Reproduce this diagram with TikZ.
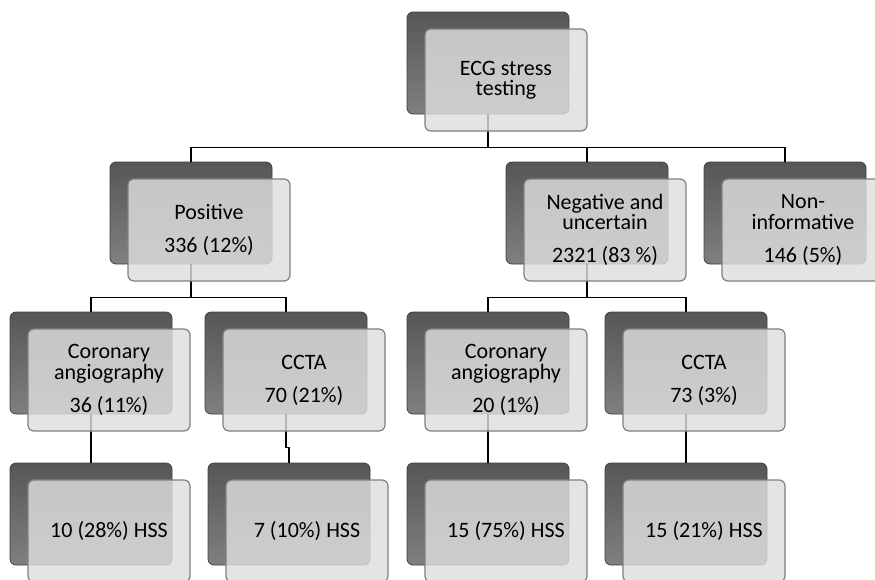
\documentclass[tikz,border=0pt]{standalone}
\usepackage{fontspec}
\setmainfont{Carlito}
\usetikzlibrary{calc}

\begin{document}
\begin{tikzpicture}[x=1pt, y=-1pt,
  backbox/.style={draw=black!75, line width=0.8pt, rounded corners=6pt,
    top color=black!66, bottom color=black!50,
    minimum width=162pt, minimum height=102pt, inner sep=0pt},
  frontbox/.style={draw=black!50, line width=1.2pt, rounded corners=6pt,
    fill=black!13, fill opacity=0.82, text opacity=1,
    minimum width=162pt, minimum height=102pt, inner sep=0pt,
    align=center, font=\fontsize{22}{20.5}\selectfont},
  link/.style={line width=1.6pt, black}]
  \clip (0,0) rectangle (875,579);
  \def\dx{18}
  \def\dy{17}
  \def\gap{12.5pt}

  % Back boxes
  \node[backbox] (ecgB) at (488,63) {};
  \node[backbox] (posB) at (191,213) {};
  \node[backbox] (negB) at (587,213) {};
  \node[backbox] (nonB) at (785,213) {};
  \node[backbox] (caPB) at (91,363) {};
  \node[backbox] (ctPB) at (286,363) {};
  \node[backbox] (caNB) at (488,363) {};
  \node[backbox] (ctNB) at (686,363) {};
  \node[backbox] (hss1B) at (91,514) {};
  \node[backbox] (hss2B) at (289,514) {};
  \node[backbox] (hss3B) at (488,514) {};
  \node[backbox] (hss4B) at (686,514) {};

  % Connections
  \draw[link] (ecgB.south) -- ++(0,33) -| (posB.north);
  \draw[link] (ecgB.south) -- ++(0,33) -| (negB.north);
  \draw[link] (ecgB.south) -- ++(0,33) -| (nonB.north);
  \draw[link] (posB.south) -- ++(0,33) -| (caPB.north);
  \draw[link] (posB.south) -- ++(0,33) -| (ctPB.north);
  \draw[link] (negB.south) -- ++(0,33) -| (caNB.north);
  \draw[link] (negB.south) -- ++(0,33) -| (ctNB.north);
  \draw[link] (caPB.south) -- ++(0,33) -| (hss1B.north);
  \draw[link] (ctPB.south) -- ++(0,33) -| (hss2B.north);
  \draw[link] (caNB.south) -- ++(0,33) -| (hss3B.north);
  \draw[link] (ctNB.south) -- ++(0,33) -| (hss4B.north);

  % Front boxes with text
  \node[frontbox] (ecg) at ($(ecgB)+(\dx,\dy)$) {ECG stress\\testing};
  \node[frontbox] (pos) at ($(posB)+(\dx,\dy)$) {Positive\\[\gap]336 (12\%)};
  \node[frontbox] (neg) at ($(negB)+(\dx,\dy)$) {Negative and\\uncertain\\[\gap]2321 (83 \%)};
  \node[frontbox] (non) at ($(nonB)+(\dx,\dy)$) {Non-\\informative\\[\gap]146 (5\%)};
  \node[frontbox] (caP) at ($(caPB)+(\dx,\dy)$) {Coronary\\angiography\\[\gap]36 (11\%)};
  \node[frontbox] (ctP) at ($(ctPB)+(\dx,\dy)$) {CCTA\\[\gap]70 (21\%)};
  \node[frontbox] (caN) at ($(caNB)+(\dx,\dy)$) {Coronary\\angiography\\[\gap]20 (1\%)};
  \node[frontbox] (ctN) at ($(ctNB)+(\dx,\dy)$) {CCTA\\[\gap]73 (3\%)};
  \node[frontbox] (hss1) at ($(hss1B)+(\dx,\dy)$) {10 (28\%) HSS};
  \node[frontbox] (hss2) at ($(hss2B)+(\dx,\dy)$) {7 (10\%) HSS};
  \node[frontbox] (hss3) at ($(hss3B)+(\dx,\dy)$) {15 (75\%) HSS};
  \node[frontbox] (hss4) at ($(hss4B)+(\dx,\dy)$) {15 (21\%) HSS};
\end{tikzpicture}
\end{document}
